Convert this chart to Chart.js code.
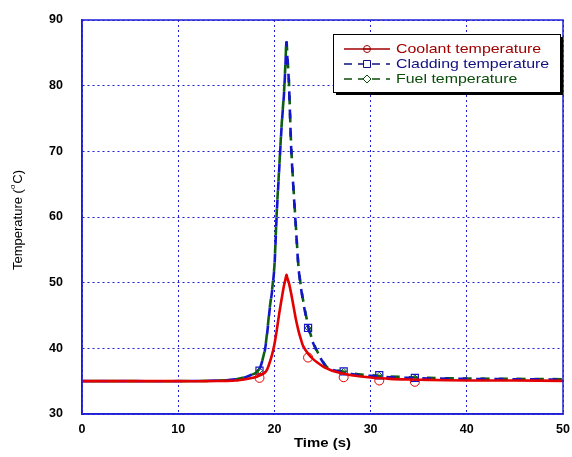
<!DOCTYPE html>
<html>
<head>
<meta charset="utf-8">
<script src="https://cdn.jsdelivr.net/npm/chart.js@4.4.0/dist/chart.umd.min.js"></script>
<style>
  html, body { margin: 0; padding: 0; background: #fff; }
  canvas { display: block; }
</style>
</head>
<body>
<canvas id="tempChart" width="572" height="457"></canvas>
<script>
// time (s) and the three temperature curves (deg C)
const timeS = [0, 5, 10, 13, 15, 16, 17, 17.5, 18, 18.5, 19, 19.25, 19.5, 19.75, 20, 20.25, 20.5, 20.75, 21, 21.15, 21.25, 21.35, 21.5, 21.75, 22, 22.25, 22.5, 22.75, 23, 23.5, 24, 24.5, 25, 25.5, 26, 27, 28, 29, 30, 32, 34, 36, 40, 45, 50];
const coolantT = [35, 35, 35, 35, 35.05, 35.1, 35.3, 35.45, 35.6, 35.9, 36.3, 36.8, 37.8, 39.0, 40.6, 42.8, 45.3, 47.5, 49.6, 50.5, 51.2, 50.7, 50.0, 48.3, 46.3, 44.3, 42.7, 41.4, 40.3, 39.2, 38.4, 37.8, 37.3, 36.9, 36.6, 36.2, 35.9, 35.7, 35.55, 35.35, 35.25, 35.2, 35.1, 35.1, 35.05];
const claddingT = [35, 35, 35, 35.05, 35.15, 35.3, 35.6, 35.9, 36.2, 37.0, 39.6, 42.3, 45.8, 48.6, 52.3, 60.7, 67.3, 73.8, 78.8, 83.2, 86.6, 84.2, 80.8, 70.3, 63.8, 58.0, 52.3, 49.3, 47.0, 43.3, 40.9, 39.3, 38.0, 37.0, 36.7, 36.4, 36.1, 35.9, 35.8, 35.6, 35.5, 35.4, 35.35, 35.3, 35.25];
const fuelT = [35, 35, 35, 35.05, 35.15, 35.3, 35.6, 35.9, 36.2, 37.0, 39.7, 42.5, 46.0, 48.8, 52.5, 61.0, 67.5, 74.0, 79.0, 83.5, 87.0, 84.5, 81.0, 70.5, 64.0, 58.2, 52.5, 49.5, 47.2, 43.5, 41.0, 39.4, 38.1, 37.1, 36.8, 36.5, 36.2, 36.0, 35.9, 35.7, 35.6, 35.5, 35.4, 35.35, 35.3];

// sparse markers as plotted
const markTime = [18.45, 23.5, 27.2, 30.9, 34.6];
const coolantMarks = [35.5, 38.6, 35.6, 35.1, 34.9];
const claddingMarks = [36.6, 43.1, 36.5, 35.9, 35.5];
const fuelMarks = [36.6, 43.1, 36.5, 35.9, 35.5];

const xTicks = [0, 10, 20, 30, 40, 50];
const yTicks = [30, 40, 50, 60, 70, 80, 90];

const seriesNames = ['Coolant temperature', 'Cladding temperature', 'Fuel temperature'];

const FONT = 'Liberation Sans, Arial, Helvetica, sans-serif';
const AXIS_BLUE = '#1f1fd6';

function pts(xs, ys) {
    return xs.map((x, i) => ({ x: x, y: ys[i] }));
}

const frameAndText = {
    id: 'frameAndText',
    afterDraw(chart) {
        const ctx = chart.ctx;
        const a = chart.chartArea;
        ctx.save();
        // plot frame
        ctx.strokeStyle = AXIS_BLUE;
        ctx.lineWidth = 1.5;
        ctx.strokeRect(a.left, a.top, a.right - a.left, a.bottom - a.top);

        // x title
        ctx.fillStyle = '#000';
        ctx.font = 'bold 13px ' + FONT;
        ctx.textAlign = 'center';
        ctx.textBaseline = 'middle';
        ctx.save();
        ctx.translate((a.left + a.right) / 2, 443);
        ctx.scale(1.15, 1);
        ctx.fillText('Time (s)', 0, 0);
        ctx.restore();

        // y title with superscript o
        ctx.save();
        ctx.translate(18, 220);
        ctx.rotate(-Math.PI / 2);
        ctx.textAlign = 'left';
        ctx.textBaseline = 'middle';
        const big = '13px ' + FONT, small = '8px ' + FONT;
        ctx.font = big;
        const w1 = ctx.measureText('Temperature (').width;
        const w3 = ctx.measureText('C)').width;
        ctx.font = small;
        const w2 = ctx.measureText('o').width + 1;
        let x = -(w1 + w2 + w3) / 2;
        ctx.font = big;
        ctx.fillText('Temperature (', x, 0);
        x += w1;
        ctx.font = small;
        ctx.fillText('o', x, -5);
        x += w2;
        ctx.font = big;
        ctx.fillText('C)', x, 0);
        ctx.restore();

        // legend box with shadow
        const bx = 333, by = 34, bw = 227, bh = 58;
        ctx.fillStyle = '#000';
        ctx.fillRect(bx + 3, by + 3, bw, bh);
        ctx.fillStyle = '#fff';
        ctx.fillRect(bx, by, bw, bh);
        ctx.strokeStyle = '#000';
        ctx.lineWidth = 1;
        ctx.strokeRect(bx + 0.5, by + 0.5, bw, bh);

        const items = [
            { color: '#a00000', dash: [], marker: 'circle', y: 49 },
            { color: '#101080', dash: [8, 6], marker: 'rect', y: 64 },
            { color: '#0a4d0a', dash: [8, 6], marker: 'diamond', y: 79 }
        ];
        items.forEach((it, i) => {
            ctx.strokeStyle = it.color;
            ctx.lineWidth = 1.5;
            ctx.setLineDash(it.dash);
            ctx.beginPath();
            ctx.moveTo(344, it.y);
            ctx.lineTo(390, it.y);
            ctx.stroke();
            ctx.setLineDash([]);
            ctx.lineWidth = 1;
            ctx.fillStyle = '#fff';
            ctx.beginPath();
            if (it.marker === 'circle') {
                ctx.arc(367, it.y, 3.5, 0, Math.PI * 2);
            } else if (it.marker === 'rect') {
                ctx.rect(363.5, it.y - 3.5, 7, 7);
            } else {
                ctx.moveTo(367, it.y - 4);
                ctx.lineTo(371, it.y);
                ctx.lineTo(367, it.y + 4);
                ctx.lineTo(363, it.y);
                ctx.closePath();
            }
            if (it.marker !== 'circle') ctx.fill();
            ctx.stroke();
            if (it.marker === 'circle') {
                ctx.beginPath();
                ctx.moveTo(363.5, it.y);
                ctx.lineTo(370.5, it.y);
                ctx.stroke();
            }
            ctx.save();
            ctx.translate(396, it.y);
            ctx.scale(1.18, 1);
            ctx.fillStyle = it.color;
            ctx.font = '13.5px ' + FONT;
            ctx.textAlign = 'left';
            ctx.textBaseline = 'middle';
            ctx.fillText(seriesNames[i], 0, 0);
            ctx.restore();
        });
        ctx.restore();
    }
};

const ctx = document.getElementById('tempChart').getContext('2d');
const tempChart = new Chart(ctx, {
    type: 'line',
    data: {
        datasets: [
            {
                label: seriesNames[0],
                data: pts(timeS, coolantT),
                borderColor: '#e30000',
                borderWidth: 2.6,
                pointRadius: 0,
                tension: 0.2
            },
            {
                label: seriesNames[1],
                data: pts(timeS, claddingT),
                borderColor: '#1515c8',
                borderWidth: 2.6,
                borderDash: [9, 9],
                pointRadius: 0,
                tension: 0.2
            },
            {
                label: seriesNames[2],
                data: pts(timeS, fuelT),
                borderColor: '#0b5e12',
                borderWidth: 2.6,
                borderDash: [9, 9],
                borderDashOffset: 9,
                pointRadius: 0,
                tension: 0.2
            },
            {
                label: 'coolant marks',
                data: pts(markTime, coolantMarks),
                showLine: false,
                pointStyle: 'circle',
                pointRadius: 4.5,
                pointBorderWidth: 1,
                pointBorderColor: '#e30000',
                pointBackgroundColor: 'rgba(0,0,0,0)'
            },
            {
                label: 'fuel marks',
                data: pts(markTime, fuelMarks),
                showLine: false,
                pointStyle: 'rectRot',
                pointRadius: 3,
                pointBorderWidth: 1,
                pointBorderColor: '#0b5e12',
                pointBackgroundColor: 'rgba(0,0,0,0)'
            },
            {
                label: 'cladding marks',
                data: pts(markTime, claddingMarks),
                showLine: false,
                pointStyle: 'rect',
                pointRadius: 5,
                pointBorderWidth: 1.2,
                pointBorderColor: '#1515c8',
                pointBackgroundColor: 'rgba(0,0,0,0)'
            }
        ]
    },
    options: {
        responsive: false,
        animation: false,
        devicePixelRatio: 1,
        layout: { padding: { top: 20, right: 9, left: 0, bottom: 0 } },
        plugins: {
            legend: { display: false },
            tooltip: { enabled: false }
        },
        scales: {
            x: {
                type: 'linear',
                min: 0,
                max: 50,
                afterFit(scale) {
                    scale.height = 43;
                    scale.paddingLeft = 0;
                    scale.paddingRight = 0;
                },
                afterBuildTicks(scale) { scale.ticks = xTicks.map(v => ({ value: v })); },
                ticks: {
                    color: '#000',
                    padding: 8,
                    maxRotation: 0,
                    font: { family: FONT, size: 12.5, weight: 'bold' }
                },
                grid: { color: AXIS_BLUE, lineWidth: 1, drawTicks: false },
                border: { color: AXIS_BLUE, width: 1.5, dash: [2, 3] }
            },
            y: {
                min: 30,
                max: 90,
                afterFit(scale) {
                    scale.width = 82;
                    scale.paddingTop = 0;
                    scale.paddingBottom = 0;
                },
                afterBuildTicks(scale) { scale.ticks = yTicks.map(v => ({ value: v })); },
                ticks: {
                    color: '#000',
                    padding: 19,
                    font: { family: FONT, size: 12.5, weight: 'bold' }
                },
                grid: { color: AXIS_BLUE, lineWidth: 1, drawTicks: false },
                border: { color: AXIS_BLUE, width: 1.5, dash: [2, 3] }
            }
        }
    },
    plugins: [frameAndText]
});
</script>
</body>
</html>
